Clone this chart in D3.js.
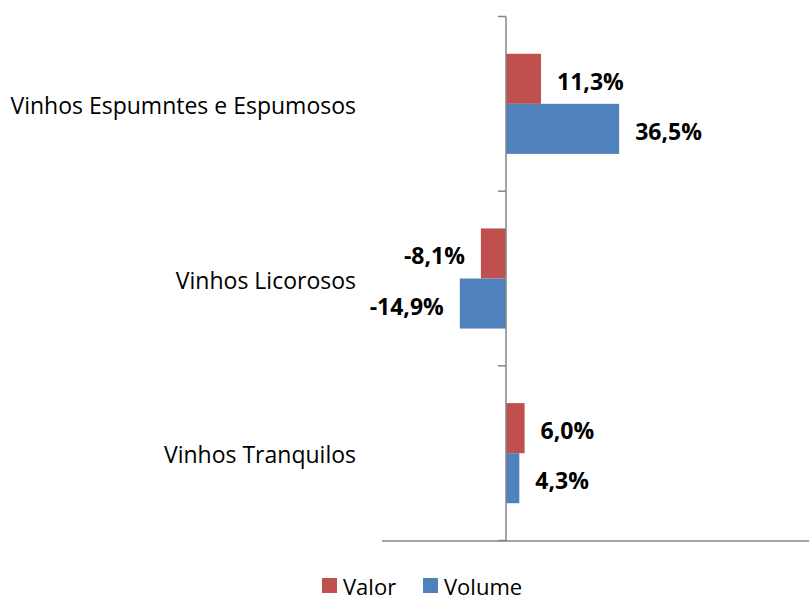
<!DOCTYPE html>
<html>
<head>
<meta charset="utf-8">
<script src="https://cdn.jsdelivr.net/npm/d3@7"></script>
<style>
  html, body { margin: 0; padding: 0; background: #fff; }
  svg { display: block; }
</style>
</head>
<body>
<svg id="chart" width="809" height="603"></svg>
<script>
const categories = ["Vinhos Espumntes e Espumosos", "Vinhos Licorosos", "Vinhos Tranquilos"];
const seriesNames = ["Valor", "Volume"];
const valor = [11.3, -8.1, 6.0];
const volume = [36.5, -14.9, 4.3];
const valueLabels = [["11,3%", "36,5%"], ["-8,1%", "-14,9%"], ["6,0%", "4,3%"]];
const xDomain = [-40, 100];

const colors = { "Valor": "#C0504D", "Volume": "#4F81BD" };
const axisColor = "#868686";
const font = "'Open Sans', 'Noto Sans', sans-serif";

const svg = d3.select("#chart");

const x = d3.scaleLinear().domain(xDomain).range([382, 816]);
const y = d3.scaleBand().domain(categories).range([16.5, 540.5]).paddingInner(0).paddingOuter(0);
const y1 = d3.scaleBand().domain(seriesNames).range([0, y.bandwidth()]).paddingInner(0).paddingOuter(0.745);

const rows = categories.map((c, i) => ({
  cat: c,
  vals: [
    { s: "Valor", v: valor[i], label: valueLabels[i][0] },
    { s: "Volume", v: volume[i], label: valueLabels[i][1] }
  ]
}));

// Bars
const g = svg.append("g");
const groups = g.selectAll("g.cat").data(rows).join("g")
  .attr("class", "cat")
  .attr("transform", d => `translate(0,${y(d.cat)})`);

groups.selectAll("rect").data(d => d.vals).join("rect")
  .attr("x", d => x(Math.min(0, d.v)))
  .attr("width", d => Math.abs(x(d.v) - x(0)))
  .attr("y", d => y1(d.s))
  .attr("height", y1.bandwidth())
  .attr("fill", d => colors[d.s]);

// Value labels
groups.selectAll("text.val").data(d => d.vals).join("text")
  .attr("class", "val")
  .attr("x", d => d.v >= 0 ? x(d.v) + 16 : x(d.v) - 16)
  .attr("y", d => y1(d.s) + y1.bandwidth() / 2 + 2)
  .attr("text-anchor", d => d.v >= 0 ? "start" : "end")
  .attr("dominant-baseline", "central")
  .attr("font-family", font)
  .attr("font-weight", "bold")
  .attr("font-size", 23)
  .attr("fill", "#000")
  .text(d => d.label);

// X axis (bottom line, no ticks)
const xAxis = d3.axisBottom(x).tickValues([]).tickSizeOuter(0);
svg.append("g")
  .attr("transform", `translate(0,${y.range()[1]})`)
  .call(xAxis)
  .call(s => s.select(".domain").attr("stroke", axisColor).attr("stroke-width", 1.5).attr("d", `M${x(xDomain[0])},0.5H809`));

// Y axis at zero with ticks at band boundaries
const boundaries = categories.map(c => y(c)).concat([y.range()[1]]);
const ya = svg.append("g").attr("transform", `translate(${x(0)},0)`);
ya.append("line")
  .attr("x1", 0).attr("x2", 0)
  .attr("y1", boundaries[0]).attr("y2", boundaries[boundaries.length - 1] + 1)
  .attr("stroke", axisColor).attr("stroke-width", 1.5);
ya.selectAll("line.tick").data(boundaries).join("line")
  .attr("class", "tick")
  .attr("x1", -8).attr("x2", 0)
  .attr("y1", d => d).attr("y2", d => d)
  .attr("stroke", axisColor).attr("stroke-width", 1.5);

// Category labels
svg.append("g").selectAll("text").data(categories).join("text")
  .attr("x", 356)
  .attr("y", d => y(d) + y.bandwidth() / 2 + 1)
  .attr("text-anchor", "end")
  .attr("dominant-baseline", "central")
  .attr("font-family", font)
  .attr("font-size", 23)
  .attr("fill", "#000")
  .text(d => d);

// Legend
const legend = svg.append("g").attr("transform", "translate(322,578)");
const legendItems = [
  { s: "Valor", dx: 0 },
  { s: "Volume", dx: 101 }
];
const li = legend.selectAll("g").data(legendItems).join("g")
  .attr("transform", d => `translate(${d.dx},0)`);
li.append("rect").attr("width", 15).attr("height", 15).attr("fill", d => colors[d.s]);
li.append("text")
  .attr("x", 21).attr("y", 7.5)
  .attr("dominant-baseline", "central")
  .attr("font-family", font)
  .attr("font-size", 22)
  .attr("fill", "#000")
  .text(d => d.s);
</script>
</body>
</html>
